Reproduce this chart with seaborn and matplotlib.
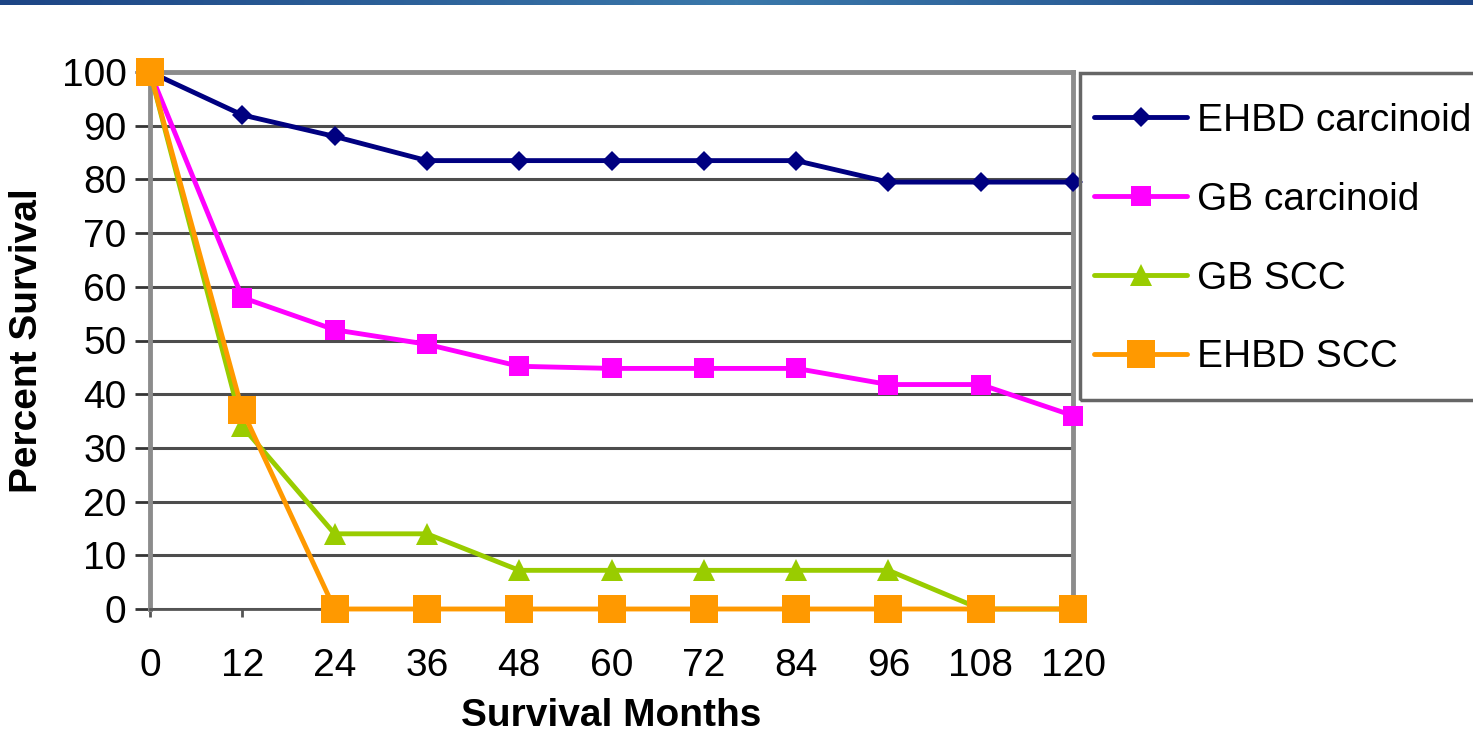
import numpy as np
import pandas as pd
import matplotlib
matplotlib.use("Agg")
import matplotlib.pyplot as plt
import seaborn as sns
from matplotlib.lines import Line2D
from matplotlib.patches import Rectangle

# survival data
months = [0, 12, 24, 36, 48, 60, 72, 84, 96, 108, 120]
ehbd_carcinoid = [100, 92, 88, 83.5, 83.5, 83.5, 83.5, 83.5, 79.5, 79.5, 79.5]
gb_carcinoid = [100, 58, 52, 49.3, 45.2, 44.8, 44.8, 44.8, 41.8, 41.8, 36]
gb_scc = [100, 34, 14, 14, 7.2, 7.2, 7.2, 7.2, 7.2, 0, 0]
ehbd_scc = [100, 37, 0, 0, 0, 0, 0, 0, 0, 0, 0]

series_names = ["EHBD carcinoid", "GB carcinoid", "GB SCC", "EHBD SCC"]
series_values = [ehbd_carcinoid, gb_carcinoid, gb_scc, ehbd_scc]

df = pd.DataFrame({
    "Months": months * 4,
    "Survival": sum(series_values, []),
    "Group": sum([[n] * len(months) for n in series_names], []),
})

styles = {
    "EHBD carcinoid": dict(color="#000080", marker="D", ms=10.5),
    "GB carcinoid": dict(color="#ff00ff", marker="s", ms=15),
    "GB SCC": dict(color="#99cc00", marker="^", ms=16),
    "EHBD SCC": dict(color="#ff9900", marker="s", ms=20),
}

sns.set_style("white")
plt.rcParams["font.family"] = ["Liberation Sans", "DejaVu Sans"]
plt.rcParams["text.color"] = "black"
plt.rcParams["axes.labelcolor"] = "black"
plt.rcParams["xtick.color"] = "black"
plt.rcParams["ytick.color"] = "black"

fig = plt.figure(figsize=(14.73, 7.33), dpi=100)

# blue header stripe
hdr = fig.add_axes([0, 1 - 5 / 733, 1, 5 / 733])
grad = np.concatenate([np.linspace(0, 1, 256), np.linspace(1, 0, 256)]).reshape(1, -1)
hdr.imshow(grad, aspect="auto", cmap=matplotlib.colors.LinearSegmentedColormap.from_list(
    "hdr", ["#1d4585", "#3a78aa"]))
hdr.axis("off")

ax = fig.add_axes([150 / 1473, 1 - 609 / 733, 923 / 1473, 537 / 733])

for name in series_names:
    st = styles[name]
    sns.lineplot(data=df[df["Group"] == name], x="Months", y="Survival", ax=ax,
                 color=st["color"], marker=st["marker"], markersize=st["ms"],
                 markeredgewidth=0, linewidth=3.5, clip_on=False, zorder=5,
                 legend=False)

ax.set_xlim(0, 120)
ax.set_ylim(0, 100)
ax.set_xticks(months)
ax.set_yticks(range(0, 101, 10))
ax.yaxis.grid(True, color="#4d4d4d", linewidth=2.2)
ax.set_axisbelow(True)
ax.tick_params(axis="y", direction="out", length=11, width=2, color="#333333",
               labelsize=28, pad=6, left=True)
ax.tick_params(axis="x", direction="out", length=6, width=2, color="#555555",
               labelsize=28, pad=22, bottom=True)

for side in ["left", "right", "top"]:
    ax.spines[side].set_color("#8c8c8c")
    ax.spines[side].set_linewidth(3.5)
ax.spines["bottom"].set_color("#555555")
ax.spines["bottom"].set_linewidth(2)

ax.set_xlabel("Survival Months", fontsize=28, fontweight="bold", labelpad=10)
ax.set_ylabel("Percent Survival", fontsize=28, fontweight="bold", labelpad=12)

# legend box drawn separately so entries can be placed freely
fig.patches.append(Rectangle((1080 / 1473, 1 - 400 / 733), 420 / 1473, 327 / 733,
                             transform=fig.transFigure, fill=False,
                             edgecolor="#666666", linewidth=2.5))
handles = [Line2D([0], [0], color=styles[n]["color"], marker=styles[n]["marker"],
                  markersize=styles[n]["ms"], markeredgewidth=0, linewidth=3.5)
           for n in series_names]
leg = fig.legend(handles, series_names, loc="upper left",
                 bbox_to_anchor=(1094 / 1473, 1 - 103 / 733), fontsize=28,
                 frameon=False, handlelength=2.4, handletextpad=0.25,
                 labelspacing=1.1, borderpad=0, borderaxespad=0)

fig.savefig("out.png", dpi=100)
